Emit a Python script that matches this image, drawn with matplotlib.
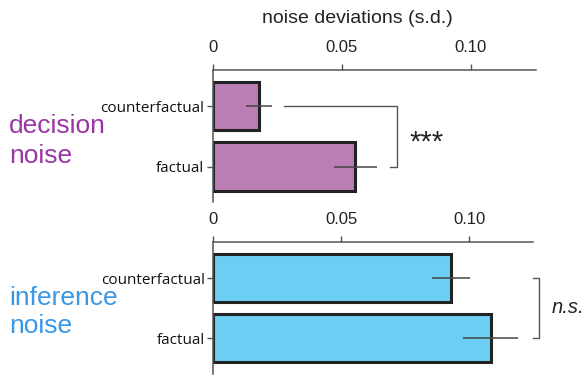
import matplotlib
matplotlib.use("Agg")
import matplotlib.pyplot as plt

# ---- data ----
categories = ["counterfactual", "factual"]
decision_vals = [0.0179, 0.0552]
decision_err = [0.0050, 0.0083]
inference_vals = [0.0929, 0.1085]
inference_err = [0.0075, 0.0108]
xtick_vals = [0, 0.05, 0.10]
xtick_labels = ["0", "0.05", "0.10"]

W, H = 583, 377
fig = plt.figure(figsize=(W / 100, H / 100), dpi=100)
plt.rcParams['font.family'] = ['Liberation Sans', 'DejaVu Sans']

def px_axes(l, t, r, b):
    return fig.add_axes([l / W, 1 - b / H, (r - l) / W, (b - t) / H])

purple_bar = '#BA7DB4'
purple_txt = '#9B35A5'
blue_bar = '#6BCEF2'
blue_txt = '#3A97E6'
edge = '#222222'
gray = '#555555'

def style(ax, xmax, ylim):
    ax.set_xlim(0, xmax)
    ax.set_ylim(*ylim)
    for s in ['right', 'bottom']:
        ax.spines[s].set_visible(False)
    for s in ['top', 'left']:
        ax.spines[s].set_color(gray)
        ax.spines[s].set_linewidth(1.1)
    ax.xaxis.tick_top()
    ax.set_xticks(xtick_vals)
    ax.set_xticklabels(xtick_labels)
    ax.tick_params(axis='x', direction='out', length=4.5, width=1.0, color=gray,
                   pad=6, labelsize=12, labelcolor='#222222')
    ax.set_yticks(range(len(categories)))
    ax.set_yticklabels(categories, fontfamily='Open Sans')
    ax.tick_params(axis='y', direction='out', length=4.5, width=1.0, color=gray,
                   pad=1.5, labelsize=11, labelcolor='#111111')

# top panel: decision noise
ax1 = px_axes(212.7, 70, 536, 201.7)
y = list(range(len(categories)))
ax1.barh(y, decision_vals, height=0.80, color=purple_bar, edgecolor=edge, linewidth=2.2, zorder=2)
ax1.errorbar(decision_vals, y, xerr=decision_err, fmt='none', ecolor='#444444',
             elinewidth=1.1, capsize=0, zorder=3)
style(ax1, 0.1253, (1.58, -0.595))
ax1.plot([0.0278, 0.0713, 0.0713, 0.0687], [0, 0, 1, 1], color=gray, lw=1.0,
         clip_on=False, zorder=3)
ax1.text(0.0827, 0.74, "***", fontsize=21, ha='center', va='baseline', color='#222222')

# bottom panel: inference noise
ax2 = px_axes(213.3, 241.7, 533.3, 374)
ax2.barh(y, inference_vals, height=0.80, color=blue_bar, edgecolor=edge, linewidth=2.2, zorder=2)
ax2.errorbar(inference_vals, y, xerr=inference_err, fmt='none', ecolor='#444444',
             elinewidth=1.1, capsize=0, zorder=3)
style(ax2, 0.1251, (1.595, -0.61))
ax2.plot([0.1251, 0.1275, 0.1275, 0.1251], [0, 0, 1, 1], color=gray, lw=1.0,
         clip_on=False, zorder=3)
ax2.text(0.1323, 0.583, "n.s.", fontsize=14.5, fontstyle='italic', ha='left',
         va='baseline', color='#222222')

# texts
fig.text(357 / W, 1 - 22.7 / H, "noise deviations (s.d.)", fontsize=14,
         ha='center', va='baseline', color='#222222')
fig.text(9 / W, 1 - 133.3 / H, "decision", fontsize=19, color=purple_txt, va='baseline')
fig.text(9 / W, 1 - 162.7 / H, "noise", fontsize=19, color=purple_txt, va='baseline')
fig.text(9 / W, 1 - 305 / H, "inference", fontsize=19, color=blue_txt, va='baseline')
fig.text(9 / W, 1 - 333 / H, "noise", fontsize=19, color=blue_txt, va='baseline')

fig.savefig("out.png", dpi=100)
